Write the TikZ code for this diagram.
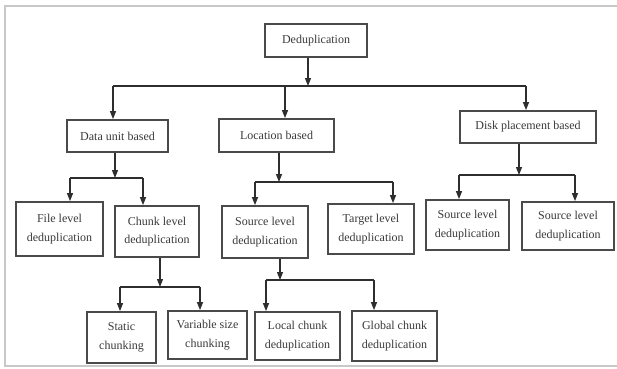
\documentclass[tikz,border=0pt]{standalone}
\usepackage{fontspec}
\setmainfont{Liberation Serif}
\usetikzlibrary{arrows.meta}
\definecolor{boxline}{HTML}{4A4A4A}
\definecolor{wire}{HTML}{2E2E2E}
\definecolor{txt}{HTML}{3A3A3A}
\definecolor{frameline}{HTML}{C8C8C8}
\begin{document}
\begin{tikzpicture}[x=1pt,y=-1pt,
  box/.style={draw=boxline, line width=1.8pt, fill=white, inner sep=0pt,
    align=center, text=txt, font=\fontsize{12}{18.5}\selectfont},
  wireline/.style={draw=wire, line width=1.3pt},
  arr/.style={wireline, -{Triangle[width=6pt,length=8pt]}},
  bx/.style args={#1x#2}{box, minimum width=#1pt, minimum height=#2pt}
]
\useasboundingbox (0,0) rectangle (617,368);
% outer frame
\draw[frameline, line width=2pt] (5,6) rectangle (620,366);

% boxes
\node[bx=102x33] (dedup) at (316,40.5) {Deduplication};
\node[bx=101x32] (data) at (117.5,136) {Data unit based};
\node[bx=115x33] (loc) at (276.5,135.5) {Location based};
\node[bx=136x32] (disk) at (528,127) {Disk placement based};
\node[bx=87x54] (file) at (59.5,229) {File level\\deduplication};
\node[bx=84x51] (chunk) at (157,231.5) {Chunk level\\deduplication};
\node[bx=86x52] (src) at (265,232) {Source level\\deduplication};
\node[bx=86x50] (tgt) at (371,229) {Target level\\deduplication};
\node[bx=83x50] (dsrcA) at (467.5,225) {Source level\\deduplication};
\node[bx=92x48] (dsrcB) at (568,226) {Source level\\deduplication};
\node[bx=69x51] (static) at (121.5,337.5) {Static\\chunking};
\node[bx=79x48] (var) at (207.5,335) {Variable size\\chunking};
\node[bx=85x48] (local) at (297.5,336) {Local chunk\\deduplication};
\node[bx=85x50] (global) at (394.5,336) {Global chunk\\deduplication};

% bus junctions
\coordinate (d0) at (308,86);
\coordinate (d0l) at (113,86);
\coordinate (d0m) at (285,86);
\coordinate (d0r) at (526,86);

\coordinate (d1) at (115,178);
\coordinate (d1l) at (70,178);
\coordinate (d1r) at (143,178);

\coordinate (d2) at (279,182);
\coordinate (d2l) at (255,182);
\coordinate (d2r) at (393,182);

\coordinate (d3) at (519,175);
\coordinate (d3l) at (459,175);
\coordinate (d3r) at (575,175);

\coordinate (d4) at (160,287);
\coordinate (d4l) at (120,287);
\coordinate (d4r) at (200,287);

\coordinate (d5) at (280,280);
\coordinate (d5l) at (266,280);
\coordinate (d5r) at (374,280);

% level 1
\draw[arr] (dedup.south -| d0) -- (d0);
\draw[wireline] (d0l) -- (d0r);
\draw[arr] (d0l) -- (d0l |- data.north);
\draw[arr] (d0m) -- (d0m |- loc.north);
\draw[arr] (d0r) -- (d0r |- disk.north);

% data unit branch
\draw[arr] (data.south -| d1) -- (d1);
\draw[wireline] (d1l) -- (d1r);
\draw[arr] (d1l) -- (d1l |- file.north);
\draw[arr] (d1r) -- (d1r |- chunk.north);

% location branch
\draw[arr] (loc.south -| d2) -- (d2);
\draw[wireline] (d2l) -- (d2r);
\draw[arr] (d2l) -- (d2l |- src.north);
\draw[arr] (d2r) -- (d2r |- tgt.north);

% disk placement branch
\draw[arr] (disk.south -| d3) -- (d3);
\draw[wireline] (d3l) -- (d3r);
\draw[arr] (d3l) -- (d3l |- dsrcA.north);
\draw[arr] (d3r) -- (d3r |- dsrcB.north);

% chunk level branch
\draw[arr] (chunk.south -| d4) -- (d4);
\draw[wireline] (d4l) -- (d4r);
\draw[arr] (d4l) -- (d4l |- static.north);
\draw[arr] (d4r) -- (d4r |- var.north);

% source level branch
\draw[arr] (src.south -| d5) -- (d5);
\draw[wireline] (d5l) -- (d5r);
\draw[arr] (d5l) -- (d5l |- local.north);
\draw[arr] (d5r) -- (d5r |- global.north);
\end{tikzpicture}
\end{document}
